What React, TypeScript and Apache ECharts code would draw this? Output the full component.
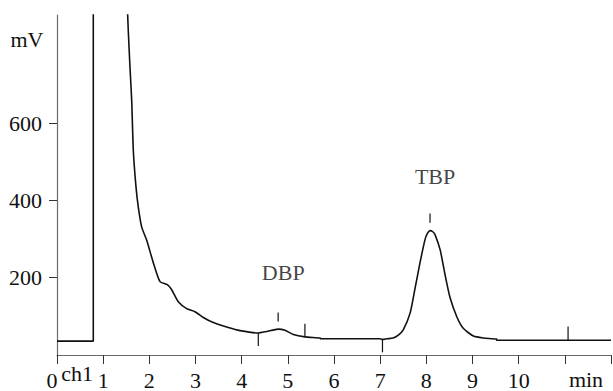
import React, { useEffect, useRef } from "react";
import * as echarts from "echarts";

// Chromatogram trace (time in min, signal in mV)
// part 1: baseline and injection spike
const spikeTime = [0, 0.786, 0.786];
const spikeSignal = [36, 36, 2000];
// part 2: solvent tail, DBP and TBP peaks
const traceTime = [
  1.5, 1.531, 1.581, 1.618, 1.653, 1.711, 1.761, 1.835, 1.943, 2.086, 2.231,
  2.389, 2.484, 2.627, 2.809, 2.989, 3.169, 3.385, 3.71, 3.964, 4.36, 4.54, 4.79, 4.94, 5.12,
  5.37, 5.7, 5.71, 7.0, 7.05, 7.15, 7.28, 7.4, 7.5, 7.65, 7.75, 7.86, 7.97, 8.02, 8.08, 8.14,
  8.19, 8.3, 8.4, 8.51, 8.66, 8.8, 9.02, 9.23, 9.52, 9.53, 12,
];
const traceSignal = [
  1100, 880, 745, 659, 530, 435, 383, 331, 297, 239, 190,
  182, 169, 138, 120, 112, 97, 84, 71, 63, 57, 61, 67, 64, 53,
  47, 44, 42, 42, 40, 42, 44, 52, 65, 109, 169, 237, 298, 314, 322, 319,
  311, 272, 211, 150, 99, 69, 49, 44, 41, 38, 38,
];

// Integration marks (vertical ticks)
const markTime = [4.36, 4.79, 5.37, 7.05, 8.08, 11.07];
const markFrom = [57, 110, 81, 42, 366, 74];
const markTo = [23, 87, 47, 7, 342, 38];

// Peak labels
const peakNames = ["DBP", "TBP"];
const peakTime = [4.9, 8.19];
const peakLabelY = [213, 463];

const xLabelValues = [1, 2, 3, 4, 5, 6, 7, 8, 9, 10];
const yLabelValues = [200, 400, 600];

const FONT = "Liberation Serif";

export default function App() {
  const ref = useRef<HTMLDivElement>(null);
  useEffect(() => {
    document.body.style.margin = "0";
    const chart = echarts.init(ref.current!, null, { renderer: "svg" });
    const axisColor = "#6a6a6a";
    const lineStyle = { color: "#111", width: 1.6 };
    const option: any = {
      animation: false,
      grid: { left: 57, right: 2, top: 15, bottom: 36 },
      xAxis: {
        type: "value",
        min: 0,
        max: 12,
        interval: 1,
        splitLine: { show: false },
        axisLine: { lineStyle: { color: axisColor, width: 1.2 } },
        axisTick: { length: 9, lineStyle: { color: "#333", width: 1 } },
        axisLabel: {
          customValues: xLabelValues,
          margin: 14,
          fontSize: 22,
          fontFamily: FONT,
          color: "#111",
        },
      },
      yAxis: {
        type: "value",
        min: 0,
        max: 880,
        splitLine: { show: false },
        axisLine: { show: true, lineStyle: { color: axisColor, width: 1.2 } },
        axisTick: { show: true, customValues: yLabelValues, length: 8, lineStyle: { color: "#333", width: 1 } },
        axisLabel: {
          customValues: yLabelValues,
          margin: 15,
          fontSize: 22,
          fontFamily: FONT,
          color: "#111",
        },
      },
      series: [
        {
          type: "line",
          data: spikeTime.map((t, i) => [t, spikeSignal[i]]),
          showSymbol: false,
          clip: true,
          lineStyle,
        },
        {
          type: "line",
          data: traceTime.map((t, i) => [t, traceSignal[i]]),
          showSymbol: false,
          clip: true,
          smooth: 0.2,
          lineStyle,
        },
        {
          type: "custom",
          data: markTime.map((t, i) => [t, markFrom[i], markTo[i]]),
          renderItem: (params: any, api: any) => {
            const p1 = api.coord([api.value(0), api.value(1)]);
            const p2 = api.coord([api.value(0), api.value(2)]);
            return {
              type: "line",
              shape: { x1: p1[0], y1: p1[1], x2: p2[0], y2: p2[1] },
              style: { stroke: "#111", lineWidth: 1.2 },
            };
          },
        },
        {
          type: "scatter",
          symbolSize: 0,
          data: peakNames.map((n, i) => ({ name: n, value: [peakTime[i], peakLabelY[i]] })),
          label: {
            show: true,
            position: "inside",
            formatter: (p: any) => p.name,
            fontSize: 22,
            fontFamily: FONT,
            color: "#111",
          },
        },
      ],
      graphic: [
        { type: "text", x: 27, y: 39, style: { text: "mV", fontSize: 22, fontFamily: FONT, fill: "#111", align: "center", verticalAlign: "middle" } },
        { type: "text", x: 52, y: 380, style: { text: "0", fontSize: 22, fontFamily: FONT, fill: "#111", align: "center", verticalAlign: "middle" } },
        { type: "text", x: 77, y: 373, style: { text: "ch1", fontSize: 22, fontFamily: FONT, fill: "#111", align: "center", verticalAlign: "middle" } },
        { type: "text", x: 586, y: 379, style: { text: "min", fontSize: 22, fontFamily: FONT, fill: "#111", align: "center", verticalAlign: "middle" } },
      ],
    };
    chart.setOption(option);
    return () => chart.dispose();
  }, []);
  return <div ref={ref} style={{ width: 613, height: 391 }} />;
}
